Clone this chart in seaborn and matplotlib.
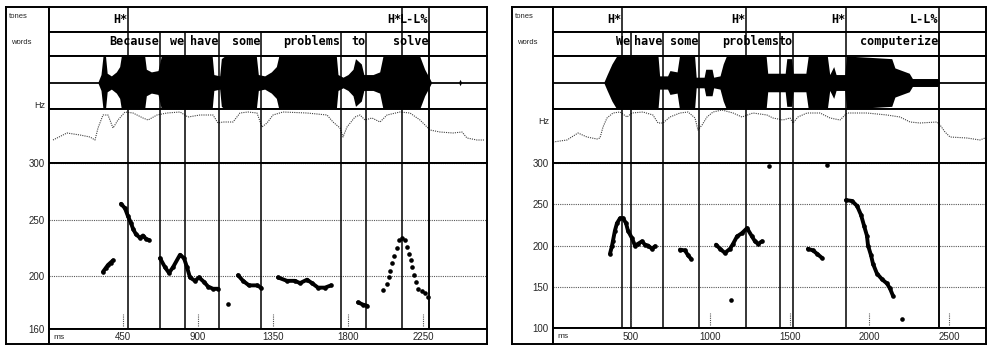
import numpy as np
import pandas as pd
import matplotlib
matplotlib.use("Agg")
import matplotlib.pyplot as plt
import seaborn as sns

"""
DATOS PANEL IZQUIERDO  (Because we have some problems to solve)
"""
izq_tonos = ["H*", "H*", "L-L%"]
izq_tonos_ms = [480, 2124, 2286]
izq_palabras = ["Because", "we", "have", "some", "problems", "to", "solve"]
izq_palabras_fin_ms = [672, 822, 1026, 1278, 1758, 1908, 2286]

# envolvente de la forma de onda (amplitud relativa)
izq_onda_ms = [0, 300, 318, 330, 345, 355, 380, 410, 430, 440, 580, 590, 620, 660, 680,
               985, 995, 1030, 1040, 1060, 1250, 1262, 1300, 1340, 1370, 1385, 1730, 1740,
               1770, 1800, 1830, 1845, 1880, 1895, 1950, 1990, 2010, 2230, 2260, 2290, 2300,
               2465, 2472, 2480, 2640]
izq_onda_amp = [0.02, 0.02, 0.3, 1.0, 1.0, 0.35, 0.25, 0.4, 0.6, 1.0, 1.0, 0.5, 0.4, 0.45, 1.0,
                1.0, 0.3, 0.25, 0.9, 1.0, 1.0, 0.3, 0.25, 0.4, 0.6, 1.0, 1.0, 0.3,
                0.2, 0.3, 0.5, 0.9, 0.7, 0.3, 0.3, 0.4, 1.0, 1.0, 0.5, 0.15, 0.02,
                0.02, 0.12, 0.02, 0.02]

# contorno de energia
izq_energia_ms = [30, 114, 192, 252, 282, 300, 330, 360, 390, 420, 462, 510, 570, 600, 654, 714,
                  792, 840, 912, 990, 1020, 1050, 1110, 1152, 1200, 1254, 1284, 1314, 1350, 1410,
                  1554, 1674, 1710, 1752, 1770, 1794, 1842, 1872, 1902, 1944, 1992, 2034, 2112,
                  2172, 2232, 2292, 2352, 2430, 2484, 2514, 2574, 2622]
izq_energia_db = [23, 30, 28, 26, 23, 35, 48, 48, 35, 43, 51, 50, 45, 43, 48, 50,
                  51, 46, 48, 48, 40, 41, 41, 50, 51, 50, 36, 40, 48, 51,
                  50, 48, 41, 35, 26, 36, 46, 48, 43, 45, 41, 48, 51,
                  50, 43, 33, 31, 30, 31, 25, 23, 23]

# F0 (Hz) por tramo
izq_f0_ms = [330, 345, 360, 375, 390,
             438, 462, 480, 498, 510, 528, 552, 570, 588, 606,
             672, 702, 726, 750, 792, 816, 834, 852, 882, 906, 936, 960, 990, 1020,
             1080,
             1140, 1170, 1206, 1254, 1278,
             1380, 1434, 1482, 1512, 1554, 1584, 1620, 1662, 1698,
             1860, 1890, 1914,
             2010, 2034, 2046, 2052, 2064, 2076, 2094, 2106, 2124, 2142, 2154, 2166, 2178,
             2184, 2196, 2208, 2220, 2244, 2262, 2280]
izq_f0_hz = [204, 207, 210, 212, 214,
             264, 260, 253, 247, 242, 237, 234, 236, 233, 232,
             216, 208, 203, 208, 219, 216, 208, 199, 196, 199, 195, 191, 189, 189,
             176,
             201, 196, 192, 192, 190,
             199, 196, 196, 194, 197, 194, 190, 190, 192,
             177, 175, 174,
             188, 193, 199, 205, 212, 218, 225, 232, 234, 232, 226, 220, 214,
             208, 201, 195, 189, 187, 185, 182]
izq_f0_tramo = [1] * 5 + [2] * 10 + [3] * 14 + [4] + [5] * 5 + [6] * 9 + [7] * 3 + [8] * 20
izq_f0_sueltos = [4, 8]   # tramos dibujados como puntos separados

izq_ticks_ms = [450, 900, 1350, 1800, 2250]
izq_ticks_hz = [153.5, 200, 250, 300]
izq_ticks_hz_txt = ["160", "200", "250", "300"]

"""
DATOS PANEL DERECHO  (We have some problems to computerize)
"""
der_tonos = ["H*", "H*", "H*", "L-L%"]
der_tonos_ms = [443, 1223, 1852, 2437]
der_palabras = ["We", "have", "some", "problems", "to", "computerize"]
der_palabras_fin_ms = [500, 701, 928, 1437, 1519, 2437]

der_onda_ms = [0, 330, 350, 380, 410, 670, 680, 730, 745, 790, 805, 900, 910, 960, 970, 1010,
               1020, 1060, 1080, 1100, 1350, 1360, 1470, 1480, 1510, 1520, 1600, 1615, 1735,
               1750, 1775, 1790, 1845, 1855, 2000, 2140, 2160, 2250, 2270, 2430, 2440, 2740]
der_onda_amp = [0.02, 0.02, 0.3, 0.7, 1.0, 1.0, 0.25, 0.25, 0.45, 0.4, 1.0, 1.0, 0.2, 0.2, 0.5, 0.5,
                0.2, 0.25, 0.7, 1.0, 1.0, 0.35, 0.35, 0.9, 0.9, 0.35, 0.35, 1.0, 1.0,
                0.3, 0.6, 0.3, 0.3, 1.0, 0.95, 0.9, 0.55, 0.35, 0.15, 0.15, 0.02, 0.02]

der_energia_ms = [10, 97, 167, 223, 286, 305, 324, 349, 387, 431, 475, 506, 575, 638, 670, 701,
                  745, 808, 859, 903, 921, 947, 978, 1016, 1072, 1142, 1198, 1267, 1355, 1393,
                  1456, 1500, 1519, 1550, 1607, 1689, 1752, 1815, 1859, 1984, 2110, 2192, 2255,
                  2318, 2425, 2444, 2475, 2507, 2613, 2695, 2727]
der_energia_db = [21, 23, 30, 26, 24, 25, 36, 45, 50, 51, 46, 50, 51, 48, 40, 40,
                  46, 50, 51, 45, 33, 38, 46, 51, 53, 50, 46, 50, 48, 45,
                  43, 45, 40, 46, 50, 50, 45, 43, 50, 50, 48, 46, 41,
                  40, 41, 38, 31, 26, 25, 23, 25]

der_f0_ms = [368, 380, 387, 399, 412, 431, 450, 469, 481, 506, 525, 544, 569, 588, 607, 632, 651,
             808, 840, 859, 877,
             1035, 1060, 1091, 1123, 1142, 1167, 1198, 1230, 1261, 1280, 1299, 1324,
             1129, 1368, 1733, 2205,
             1613, 1645, 1670, 1701,
             1852, 1890, 1922, 1947, 1966, 1984, 1991, 2010, 2022, 2047, 2079, 2110, 2129, 2148]
der_f0_hz = [190, 199, 206, 218, 227, 233, 233, 227, 218, 209, 200, 202, 205, 201, 200, 196, 199,
             195, 194, 188, 184,
             201, 196, 191, 196, 202, 211, 215, 221, 211, 205, 202, 205,
             134, 296, 298, 111,
             196, 194, 190, 185,
             255, 254, 248, 237, 224, 212, 200, 188, 178, 166, 159, 154, 148, 139]
der_f0_tramo = [1] * 17 + [2] * 4 + [3] * 12 + [4] * 4 + [5] * 4 + [6] * 14
der_f0_sueltos = [4]

der_ticks_ms = [500, 1000, 1500, 2000, 2500]
der_ticks_hz = [100, 150, 200, 250, 300]
der_ticks_hz_txt = ["100", "150", "200", "250", "300"]

"""
FIGURA
"""
sns.set_style("white")
plt.rcParams["font.family"] = ["Liberation Sans", "DejaVu Sans"]

W, H = 988, 347
fig = plt.figure(figsize=(W / 100, H / 100), dpi=100)


def caja(x0, y0, x1, y1):
    return [x0 / W, 1 - y1 / H, (x1 - x0) / W, (y1 - y0) / H]


def limpiar(ax, xlim):
    ax.set_xlim(xlim)
    ax.set_xticks([])
    ax.set_yticks([])
    ax.set_xlabel("")
    ax.set_ylabel("")
    for s in ax.spines.values():
        s.set_linewidth(1.4)
        s.set_color("black")


def panel(px, filas, xlim, tonos, tonos_ms, palabras, palabras_fin, onda_ms, onda_amp,
          en_ms, en_db, f0_ms, f0_hz, f0_tramo, f0_sueltos, ticks_ms, ticks_hz, ticks_txt,
          ylim, pos_hz):
    x0, xl, x1 = px
    lineas = sorted(tonos_ms + palabras_fin)

    # columna de etiquetas
    ax_lab = fig.add_axes(caja(x0, filas[0], xl, filas[-1]))
    ax_lab.set_facecolor("none")
    limpiar(ax_lab, (0, 1))
    fig.text((x0 + 3) / W, 1 - 16.5 / H, "tones", fontsize=5.5, va="center")
    fig.text((x0 + 5) / W, 1 - 42 / H, "words", fontsize=5.5, va="center")
    fig.text((xl - 4) / W, 1 - pos_hz / H, "Hz", fontsize=6.5, ha="right", va="center")

    # tonos
    ax = fig.add_axes(caja(xl, filas[0], x1, filas[1]))
    limpiar(ax, xlim)
    for t, lab in zip(tonos_ms, tonos):
        ax.axvline(t, color="black", lw=1.1)
        ax.annotate(lab, (t, 0.5), xytext=(-0.5, 0), textcoords="offset points",
                    ha="right", va="center", fontsize=8.5, fontweight="bold",
                    family="DejaVu Sans Mono", color="black")

    # palabras
    ax = fig.add_axes(caja(xl, filas[1], x1, filas[2]))
    limpiar(ax, xlim)
    for t in lineas:
        ax.axvline(t, color="black", lw=1.1)
    for t, lab in zip(palabras_fin, palabras):
        ax.annotate(lab, (t, 0.62), xytext=(-0.5, 0), textcoords="offset points",
                    ha="right", va="center", fontsize=8.5, fontweight="bold",
                    family="DejaVu Sans Mono", color="black")

    # forma de onda
    ax = fig.add_axes(caja(xl, filas[2], x1, filas[3]))
    amp = np.array(onda_amp)
    ax.fill_between(onda_ms, -amp, amp, color="black", lw=0)
    ax.axhline(0, color="black", lw=1.1)
    for t in lineas:
        ax.axvline(t, color="black", lw=1.1)
    ax.set_ylim(-1, 1)
    limpiar(ax, xlim)

    # energia
    ax = fig.add_axes(caja(xl, filas[3], x1, filas[4]))
    sns.lineplot(x=en_ms, y=en_db, ax=ax, color="0.25", lw=0.8, linestyle=(0, (1, 1)))
    for t in lineas:
        ax.axvline(t, color="black", lw=1.1)
    ax.set_ylim(0, 54)
    limpiar(ax, xlim)

    # F0
    ax = fig.add_axes(caja(xl, filas[4], x1, filas[5]))
    df = pd.DataFrame({"ms": f0_ms, "hz": f0_hz, "tramo": f0_tramo})
    unidos = df[~df["tramo"].isin(f0_sueltos)]
    sns.lineplot(data=unidos, x="ms", y="hz", units="tramo", estimator=None, sort=False,
                 color="black", lw=2.8, ax=ax)
    sns.scatterplot(data=df, x="ms", y="hz", color="black", s=11, linewidth=0, ax=ax)
    for t in lineas:
        ax.axvline(t, color="black", lw=1.1)
    for t in ticks_ms:
        ax.axvline(t, ymin=0.02, ymax=0.09, color="0.3", lw=0.8, linestyle=(0, (1, 1)))
    limpiar(ax, xlim)
    ax.set_ylim(ylim)
    ax.set_yticks(ticks_hz)
    ax.set_yticklabels(ticks_txt, fontsize=7)
    ax.tick_params(axis="y", length=0, pad=3)
    ax.yaxis.grid(True, color="0.35", lw=0.8, linestyle=(0, (1, 1)))

    # eje de tiempo
    ax = fig.add_axes(caja(xl, filas[5], x1, filas[6]))
    limpiar(ax, xlim)
    ax.set_ylim(0, 1)
    ax.annotate("ms", (xlim[0], 0.45), xytext=(3, 0), textcoords="offset points",
                fontsize=6, va="center")
    for t in ticks_ms:
        ax.text(t, 0.45, str(t), fontsize=7, ha="center", va="center")


panel((6, 49, 487), [7, 32, 56, 109, 163, 329, 344], (6, 2634),
      izq_tonos, izq_tonos_ms, izq_palabras, izq_palabras_fin_ms, izq_onda_ms, izq_onda_amp,
      izq_energia_ms, izq_energia_db, izq_f0_ms, izq_f0_hz, izq_f0_tramo, izq_f0_sueltos,
      izq_ticks_ms, izq_ticks_hz, izq_ticks_hz_txt, (153.5, 300), 105)

panel((512, 553, 986), [7, 32, 56, 109, 163, 328, 344], (9.5, 2733),
      der_tonos, der_tonos_ms, der_palabras, der_palabras_fin_ms, der_onda_ms, der_onda_amp,
      der_energia_ms, der_energia_db, der_f0_ms, der_f0_hz, der_f0_tramo, der_f0_sueltos,
      der_ticks_ms, der_ticks_hz, der_ticks_hz_txt, (100, 300), 122)

plt.savefig("out.png", dpi=100)
